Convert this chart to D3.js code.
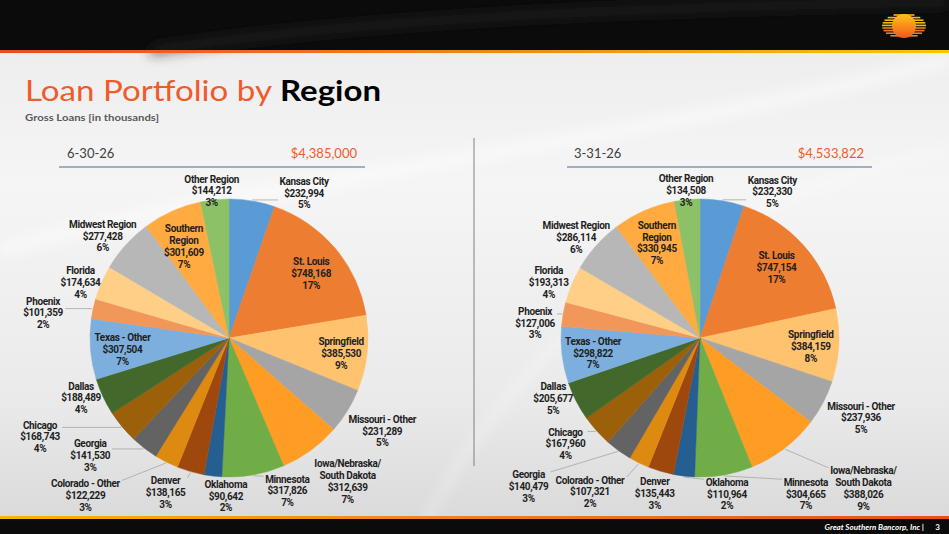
<!DOCTYPE html>
<html><head><meta charset="utf-8">
<script src="https://cdn.jsdelivr.net/npm/d3@7/dist/d3.min.js"></script>
<style>
html,body{margin:0;padding:0;background:#fff;}
svg{display:block;}
</style></head>
<body>
<svg id="chart" width="949" height="534"></svg>
<script>
// ---------------- DATA ----------------
const categories = ["Kansas City","St. Louis","Springfield","Missouri - Other","Iowa/Nebraska/\nSouth Dakota","Minnesota","Oklahoma","Denver","Colorado - Other","Georgia","Chicago","Dallas","Texas - Other","Phoenix","Florida","Midwest Region","Southern\nRegion","Other Region"];
const values0630 = [232994,748168,385530,231289,312639,317826,90642,138165,122229,141530,168743,188489,307504,101359,174634,277428,301609,144212];
const values0331 = [232330,747154,384159,237936,388026,304665,110964,135443,107321,140479,167960,205677,298822,127006,193313,286114,330945,134508];
const pct0630 = ["5%","17%","9%","5%","7%","7%","2%","3%","3%","3%","4%","4%","7%","2%","4%","6%","7%","3%"];
const pct0331 = ["5%","17%","8%","5%","9%","7%","2%","3%","2%","3%","4%","5%","7%","3%","4%","6%","7%","3%"];
const periods = ["6-30-26","3-31-26"];
const totals = ["$4,385,000","$4,533,822"];

// ---------------- STYLE / LAYOUT ----------------
const colors = ["#5B9BD5","#ED7D31","#FFC26E","#A5A5A5","#FF9C24","#70AD47","#255E91","#9E480E","#DE8A10","#636363","#9C5F0A","#43682B","#7CAFDD","#F1975A","#FFCF87","#B7B7B7","#FFAB42","#8CC168"];
// label offsets (px) relative to the slice's outer mid point
const offsets0630 = [[52,-8],[-24,25],[-26,0],[35,20],[37,31],[34,16],[13,20],[-25,21],[-81,33],[-54,7],[-82,10],[-22,1],[32,0],[-50,4],[-21,0],[-23,-9],[12,35],[-3,-9]];
const offsets0331 = [[50,-9],[-27,22],[-28,1],[38,15],[79,40],[82,19],[43,18],[-6,22],[-49,29],[-90,36],[-31,13],[-23,-3],[31,-2],[-28,9],[-23,-2],[-20,-8],[13,32],[-1,-9]];
const leaders0630 = [1,0,0,0,0,1,0,1,1,1,1,0,0,1,0,0,0,0];
const leaders0331 = [1,0,0,0,1,1,1,0,1,1,1,0,0,1,0,0,0,0];

const W = 949, H = 534;
const svg = d3.select("#chart");
const defs = svg.append("defs");

// backgrounds
const bg = defs.append("linearGradient").attr("id","bg").attr("x1",0).attr("y1",0).attr("x2",0).attr("y2",1);
bg.append("stop").attr("offset","0%").attr("stop-color","#ebebeb");
bg.append("stop").attr("offset","35%").attr("stop-color","#f5f5f5");
bg.append("stop").attr("offset","75%").attr("stop-color","#eaeaea");
bg.append("stop").attr("offset","100%").attr("stop-color","#d8d8d8");
const hl = defs.append("linearGradient").attr("id","hl").attr("x1",0).attr("y1",0).attr("x2",1).attr("y2",0);
hl.append("stop").attr("offset","0%").attr("stop-color","#e4501e");
hl.append("stop").attr("offset","55%").attr("stop-color","#f08a1c");
hl.append("stop").attr("offset","100%").attr("stop-color","#f7c800");
const fl = defs.append("linearGradient").attr("id","fl").attr("x1",0).attr("y1",0).attr("x2",1).attr("y2",0);
fl.append("stop").attr("offset","0%").attr("stop-color","#f5b800");
fl.append("stop").attr("offset","40%").attr("stop-color","#f08a1c");
fl.append("stop").attr("offset","100%").attr("stop-color","#e4501e");
const sun = defs.append("linearGradient").attr("id","sun").attr("x1",0).attr("y1",0).attr("x2",0).attr("y2",1);
sun.append("stop").attr("offset","0%").attr("stop-color","#ffc21a");
sun.append("stop").attr("offset","100%").attr("stop-color","#f2571e");
const blur = defs.append("filter").attr("id","blur").attr("x","-20%").attr("y","-50%").attr("width","140%").attr("height","200%");
blur.append("feGaussianBlur").attr("stdDeviation",6);

svg.append("rect").attr("width",W).attr("height",H).attr("fill","url(#bg)");
// subtle swooshes
svg.append("path").attr("d","M0,250 C250,180 600,150 949,60").attr("fill","none").attr("stroke","#ffffff").attr("stroke-opacity",0.45).attr("stroke-width",14).attr("filter","url(#blur)");
svg.append("path").attr("d","M420,534 C520,330 700,200 949,150").attr("fill","none").attr("stroke","#ffffff").attr("stroke-opacity",0.3).attr("stroke-width",8).attr("filter","url(#blur)");

// header band
svg.append("rect").attr("x",0).attr("y",0).attr("width",W).attr("height",51).attr("fill","#0b0b0b");
svg.append("path").attr("d","M150,51 C350,20 600,8 949,2").attr("fill","none").attr("stroke","#2a2a2a").attr("stroke-width",10).attr("stroke-opacity",0.6).attr("filter","url(#blur)");
svg.append("rect").attr("x",0).attr("y",50).attr("width",W).attr("height",3).attr("fill","url(#hl)");

// logo
const logo = svg.append("g").attr("transform","translate(904,26)");
d3.range(-11,12,2.6).forEach(y=>{
  const hw = 22*Math.sqrt(Math.max(0,1-(y*y)/(12.5*12.5)));
  logo.append("rect").attr("x",-hw).attr("y",y-0.8).attr("width",2*hw).attr("height",1.6).attr("fill", y<0?"#f6b81c":"#ef7d22");
});
logo.append("circle").attr("r",12).attr("fill","url(#sun)");

// footer
svg.append("rect").attr("x",0).attr("y",516).attr("width",W).attr("height",3).attr("fill","url(#fl)");
svg.append("rect").attr("x",0).attr("y",519).attr("width",W).attr("height",15).attr("fill","#0b0b0b");
svg.append("text").attr("x",924).attr("y",530).attr("text-anchor","end")
  .attr("font-family","Lato, 'Open Sans', sans-serif").attr("font-size",8).attr("font-style","italic").attr("font-weight",700)
  .attr("fill","#ffffff").text("Great Southern Bancorp, Inc  |");
svg.append("text").attr("x",940).attr("y",530).attr("text-anchor","end")
  .attr("font-family","Lato, 'Open Sans', sans-serif").attr("font-size",8).attr("font-weight",700)
  .attr("fill","#ffffff").text("3");

// title
svg.append("text").attr("x",25).attr("y",101).attr("font-family","Lato, 'Open Sans', sans-serif")
  .attr("font-size",29).attr("fill","#EF5B2B").attr("textLength",247).attr("lengthAdjust","spacingAndGlyphs")
  .text("Loan Portfolio by");
svg.append("text").attr("x",280).attr("y",101).attr("font-family","Lato, 'Open Sans', sans-serif")
  .attr("font-size",29).attr("font-weight",700).attr("fill","#000").attr("textLength",101).attr("lengthAdjust","spacingAndGlyphs")
  .text("Region");
svg.append("text").attr("x",25).attr("y",121).attr("font-family","Lato, 'Open Sans', sans-serif")
  .attr("font-size",10).attr("font-weight",700).attr("fill","#595959").attr("textLength",134).attr("lengthAdjust","spacingAndGlyphs")
  .text("Gross Loans [in thousands]");

// divider
svg.append("line").attr("x1",474).attr("x2",474).attr("y1",138).attr("y2",466).attr("stroke","#808080").attr("stroke-width",1);

// panels
const panels = [
  {cx:229, cy:338, values:values0630, pct:pct0630, offsets:offsets0630, leaders:leaders0630, period:periods[0], total:totals[0], lx1:59, lx2:365, px:67, tx:357},
  {cx:700, cy:338, values:values0331, pct:pct0331, offsets:offsets0331, leaders:leaders0331, period:periods[1], total:totals[1], lx1:567, lx2:872, px:574, tx:864}
];
const R = 139;
const fmt = d3.format(",");
const labelFont = "Roboto, 'Liberation Sans', sans-serif";

panels.forEach(p => {
  svg.append("text").attr("x",p.px).attr("y",158).attr("font-family","Lato, 'Open Sans', sans-serif")
    .attr("font-size",13).attr("fill","#404040").text(p.period);
  svg.append("text").attr("x",p.tx).attr("y",158).attr("text-anchor","end").attr("font-family","Lato, 'Open Sans', sans-serif")
    .attr("font-size",13).attr("fill","#EF5B2B").text(p.total);
  svg.append("line").attr("x1",p.lx1).attr("x2",p.lx2).attr("y1",167).attr("y2",167).attr("stroke","#8497B0").attr("stroke-width",1.5);

  const data = categories.map((c,i)=>({name:c, value:p.values[i], pct:p.pct[i], i}));
  const pie = d3.pie().sort(null).value(d=>d.value);
  const arcs = pie(data);
  const arc = d3.arc().innerRadius(0).outerRadius(R);
  const g = svg.append("g").attr("transform",`translate(${p.cx},${p.cy})`);
  g.selectAll("path.slice").data(arcs).join("path").attr("class","slice")
    .attr("d",arc).attr("fill",d=>colors[d.data.i]).attr("stroke",d=>colors[d.data.i]).attr("stroke-width",0.5);

  const leaderG = g.append("g");
  const labelG = g.append("g");
  arcs.forEach(a => {
    const mid = (a.startAngle + a.endAngle)/2;
    const ox = R*Math.sin(mid), oy = -R*Math.cos(mid);
    const off = p.offsets[a.data.i];
    const lx = ox + off[0], ly = oy + off[1];
    const lines = a.data.name.split("\n").concat(["$"+fmt(a.data.value), a.data.pct]);
    const lh = 11.8;
    const t = labelG.append("text").attr("text-anchor","middle").attr("font-family",labelFont)
      .attr("font-size",10).attr("font-weight",700).attr("fill","#1f1f1f").attr("letter-spacing",-0.35);
    lines.forEach((ln,k)=>{
      t.append("tspan").attr("x",lx).attr("y",ly + (k-(lines.length-1)/2)*lh + 3.6).text(ln);
    });
    if (p.leaders[a.data.i]) {
      const bb = t.node().getBBox();
      const pad = 1.5;
      const x0 = bb.x - pad, x1 = bb.x + bb.width + pad, y0 = bb.y - pad, y1 = bb.y + bb.height + pad;
      const sx = (R+1)*Math.sin(mid), sy = -(R+1)*Math.cos(mid);
      let ex = Math.max(x0, Math.min(x1, sx)), ey = Math.max(y0, Math.min(y1, sy));
      if (sx < x0 || sx > x1) { ey = Math.max(y0+4, Math.min(y1-4, sy)); }
      leaderG.append("line").attr("x1",sx).attr("y1",sy).attr("x2",ex).attr("y2",ey)
        .attr("stroke","#a6a6a6").attr("stroke-width",0.8);
    }
  });
});
</script>
</body></html>
